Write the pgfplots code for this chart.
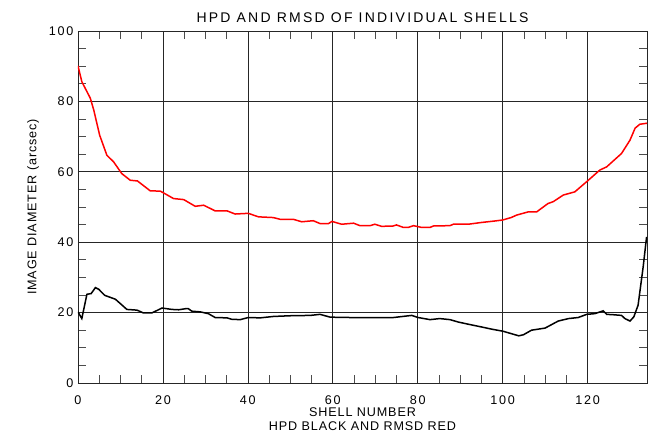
\documentclass[border=0pt]{standalone}
\usepackage{fontspec}
\setmainfont{Liberation Sans}
\usepackage{pgfplots}
\pgfplotsset{compat=1.18}
\newcommand{\tickfont}{\fontsize{12.6}{14}\selectfont\addfontfeature{LetterSpace=14}}
\newcommand{\labfont}{\fontsize{12.6}{14}\selectfont\addfontfeature{LetterSpace=7}}
\newcommand{\titfont}{\fontsize{14}{16}\selectfont\addfontfeature{LetterSpace=16}}
\begin{document}
\begin{tikzpicture}
\begin{axis}[
  scale only axis,
  width=569pt, height=352pt,
  xmin=0, xmax=134, ymin=0, ymax=100,
  xtick={0,20,...,120}, ytick={0,20,...,100},
  minor x tick num=3, minor y tick num=3,
  tick align=inside,
  xtick pos=both, ytick pos=both,
  major tick length=0pt, minor tick length=8pt,
  minor tick style={black!70, line width=0.6pt},
  grid=major,
  major grid style={black!85, line width=0.7pt},
  axis line style={black!85, line width=0.8pt},
  /pgf/number format/assume math mode=true,
  xticklabel style={font=\tickfont, anchor=base, yshift=-21.3pt},
  yticklabel style={font=\tickfont, anchor=east, xshift=-1pt},
  title={HPD AND RMSD OF INDIVIDUAL SHELLS},
  title style={font=\titfont, anchor=base, at={(axis description cs:0.5,1)}, yshift=2.3pt},
  ylabel={IMAGE DIAMETER (arcsec)},
  ylabel style={font=\labfont, anchor=center, at={(axis description cs:0,0.5)}, yshift=45pt},
  xlabel={SHELL NUMBER},
  xlabel style={font=\labfont, anchor=base, at={(axis description cs:0.5,0)}, yshift=-33.3pt},
]
\addplot[red, line width=1.5pt] coordinates {
(0,90.1) (0.9,85.6) (2.9,80.9) (3.7,77.6) (5.1,70.4) (6.8,64.7) (8.4,62.8) (10.3,59.5) (12.3,57.6) (14.0,57.4) (17.0,54.6) (19.4,54.5) (22.5,52.4) (24.9,52.1) (27.6,50.2) (29.6,50.5) (32.3,48.9) (35.1,48.9) (37.0,48.0) (40.1,48.2) (42.5,47.2) (46.0,47.0) (47.6,46.5) (50.7,46.5) (52.7,45.8) (55.4,46.1) (57.0,45.3) (59.0,45.3) (59.8,45.9) (62.1,45.1) (64.9,45.4) (66.4,44.7) (68.8,44.7) (69.9,45.1) (71.5,44.5) (74.2,44.6) (75.0,44.9) (76.6,44.2) (77.8,44.2) (79.0,44.7) (80.9,44.2) (82.9,44.2) (83.7,44.6) (87.6,44.7) (88.4,45.1) (91.9,45.1) (95,45.6) (98,46.0) (100,46.3) (102,47.0) (103.3,47.7) (106.0,48.6) (108.0,48.6) (110.7,51.0) (111.9,51.5) (114.3,53.4) (117.0,54.3) (119.8,57.2) (122.9,60.5) (124.5,61.4) (128.0,65.2) (130.0,69.0) (131.2,72.4) (132.3,73.5) (134,73.8)
};
\addplot[black, line width=1.5pt] coordinates {
(0,20.2) (0.9,18.3) (2.1,25.2) (3.1,25.4) (4.1,27.1) (4.9,26.6) (6.3,24.9) (8.8,23.8) (10.4,22.1) (11.5,20.9) (13.9,20.7) (15.4,19.9) (17.4,19.9) (19.8,21.3) (22.1,20.9) (23.7,20.8) (25.3,21.1) (26.0,21.1) (26.8,20.4) (28.8,20.2) (30.7,19.7) (32.3,18.6) (35.1,18.5) (36.2,18.1) (38.2,18.0) (40.1,18.6) (42.9,18.5) (46.0,18.9) (49.9,19.1) (54.7,19.2) (57.0,19.5) (59.4,18.7) (64.1,18.6) (69.6,18.6) (74.3,18.6) (78.6,19.2) (80.1,18.6) (82.9,18.0) (85.2,18.3) (87.6,18.0) (89.6,17.3) (92.3,16.6) (95.1,15.9) (97.4,15.3) (100.1,14.7) (102.1,14.0) (103.8,13.4) (104.9,13.7) (106.8,15.0) (110.0,15.6) (113.1,17.6) (115.5,18.3) (117.8,18.6) (119.8,19.5) (121.7,19.7) (123.7,20.5) (124.5,19.5) (126.0,19.4) (128.0,19.2) (128.8,18.3) (130.0,17.6) (130.9,18.8) (131.9,22.1) (133.1,33.0) (133.9,41.5)
};
\end{axis}
\node[font=\labfont, anchor=base] at ([yshift=-48pt]current axis.south) {HPD BLACK AND RMSD RED};
\useasboundingbox ([shift={(-78pt,-52pt)}]current axis.south west) rectangle ([shift={(7pt,31pt)}]current axis.north east);
\end{tikzpicture}
\end{document}
